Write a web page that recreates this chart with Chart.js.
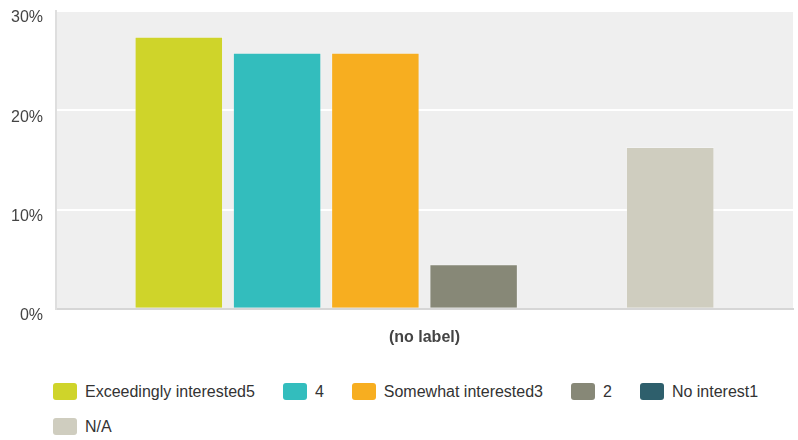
<!DOCTYPE html>
<html lang="en">
  <head>
    <meta charset="UTF-8" />
    <title>Interest bar chart</title>
  </head>
  <style>
   body{
    margin: 0;
    background: #fff;
    font-family: "Liberation Sans", Arial, sans-serif;
   }
   .mainBox{
    position: relative;
    width: 798px;
    height: 440px;
   }
   .chartBox{
    position: absolute;
    left: 0;
    top: 0;
    width: 798px;
    height: 368px;
   }
   #legend{
    position: absolute;
    left: 53px;
    top: 383px;
    width: 740px;
    display: flex;
    flex-wrap: wrap;
    row-gap: 18px;
   }
   .item{
    display: flex;
    align-items: center;
    height: 17px;
    margin-right: 28px;
    font-size: 16px;
    color: #333;
   }
   .box{
    width: 24px;
    height: 17px;
    border-radius: 3px;
    margin-right: 8px;
   }
  </style>

  <body>
    <div class="mainBox">
      <div class="chartBox">
        <canvas id="myChart"></canvas>
      </div>
      <div id="legend"></div>
    </div>
  </body>
  <script src="https://cdn.jsdelivr.net/npm/chart.js@4/dist/chart.umd.min.js"></script>

  <script>
    var categories=['(no label)'];
    var seriesNames=['Exceedingly interested5','4','Somewhat interested3','2','No interest1','N/A'];
    var seriesValues=[27.4,25.8,25.8,4.5,0,16.3];
    var seriesColors=['#cfd42a','#33bdbd','#f7ae20','#878877','#2e5f6c','#cfcdbf'];
    var yTicks=[0,10,20,30];

    // gray plot background
    var plotBg={
      id:'plotBg',
      beforeDraw(chart){
        var a=chart.chartArea;
        var c=chart.ctx;
        c.save();
        c.fillStyle='#efefef';
        c.fillRect(a.left,a.top,a.right-a.left,a.bottom-a.top);
        c.restore();
      }
    };

    window.onload=function(){
      var datasets=[];
      seriesNames.forEach((name,i)=>{
        datasets.push({
          label:name,
          data:[seriesValues[i]],
          backgroundColor:seriesColors[i],
          borderColor:'rgba(255,255,255,0.25)',
          borderWidth:1
        });
      });

      var ctx=document.getElementById('myChart');
      new Chart(ctx,{
        type:'bar',
        data:{labels:categories,datasets:datasets},
        plugins:[plotBg],
        options:{
          responsive:true,
          maintainAspectRatio:false,
          animation:false,
          layout:{padding:{top:11,right:5,bottom:2,left:0}},
          plugins:{
            legend:{display:false},
            tooltip:{enabled:false}
          },
          scales:{
            x:{
              grid:{display:false,drawTicks:false},
              border:{display:true,color:'#d6d6d6',width:2},
              ticks:{
                padding:19,
                color:'#444',
                font:{family:'"Liberation Sans", Arial, sans-serif',size:16,weight:'bold'}
              }
            },
            y:{
              min:0,
              max:yTicks[yTicks.length-1],
              afterFit(scale){
                scale.width=56;
                scale.paddingTop=0;
                scale.paddingBottom=0;
              },
              afterBuildTicks(scale){scale.ticks=yTicks.map(v=>({value:v}));},
              grid:{color:'#ffffff',lineWidth:2,drawTicks:false},
              border:{display:true,color:'#dedede',width:2},
              ticks:{
                padding:13,
                labelOffset:7,
                color:'#444',
                font:{family:'"Liberation Sans", Arial, sans-serif',size:16},
                callback:v=>v+'%'
              }
            }
          }
        }
      });

      var legend=document.getElementById('legend');
      seriesNames.forEach((name,i)=>{
        var item=document.createElement('div');
        item.className='item';
        var box=document.createElement('span');
        box.className='box';
        box.style.background=seriesColors[i];
        var txt=document.createElement('span');
        txt.textContent=name;
        item.appendChild(box);
        item.appendChild(txt);
        legend.appendChild(item);
      });
    }
  </script>
</html>
